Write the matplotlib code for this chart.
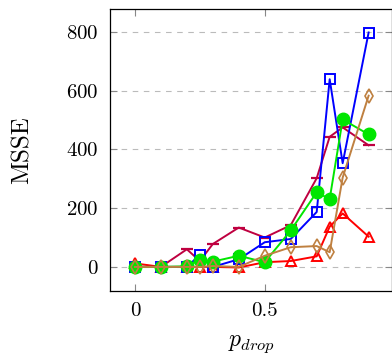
import matplotlib
matplotlib.use("Agg")
import matplotlib.pyplot as plt

plt.rcParams['font.family'] = ['cmr10', 'DejaVu Serif']
plt.rcParams['mathtext.fontset'] = 'cm'
plt.rcParams['axes.formatter.use_mathtext'] = True

# valores
p_drop = [0.0, 0.1, 0.2, 0.25, 0.3, 0.4, 0.5, 0.6, 0.7, 0.75, 0.8, 0.9]
msse_red = [12, 0, 0, 0, 0, -2, 16, 20, 36, 137, 182, 103]
msse_purple = [0, 0, 60, 20, 78, 134, 100, 142, 302, 443, 475, 414]
msse_blue = [0, 0, 0, 41, 0, 26, 84, 95, 187, 639, 353, 798]
msse_green = [0, 0, 2, 24, 18, 38, 16, 124, 254, 231, 502, 451]
msse_brown = [0, 0, 0, 0, 3, 0, 38, 67, 71, 50, 304, 583]

x_ticks = [0, 0.5]
y_ticks = [0, 200, 400, 600, 800]

fig = plt.figure(figsize=(3.92, 3.56), dpi=100)
ax = fig.add_axes([0.2806, 0.1826, 0.7194, 0.7921])

lw = 1.4
ax.plot(p_drop, msse_red, color='red', lw=lw, marker='^', ms=7,
        mfc='none', mew=1.4, zorder=3)
ax.plot(p_drop, msse_purple, color='#BF0040', lw=lw, marker='_', ms=9,
        mew=1.6, zorder=3)
ax.plot(p_drop, msse_blue, color='blue', lw=lw, marker='s', ms=7,
        mfc='none', mew=1.4, zorder=4)
ax.plot(p_drop, msse_green, color='#00E600', lw=lw, marker='o', ms=9,
        zorder=5)
ax.plot(p_drop, msse_brown, color='#BF8040', lw=lw, marker='d', ms=7,
        mfc='none', mew=1.2, zorder=6)

ax.set_xlim(-0.096, 0.99)
ax.set_ylim(-82, 878)
ax.set_xticks(x_ticks)
ax.set_xticklabels(['0', '0.5'])
ax.set_yticks(y_ticks)
ax.yaxis.grid(True, linestyle=(0, (5, 5)), color='#bbbbbb', lw=0.8)
ax.set_axisbelow(True)

ax.tick_params(direction='in', length=5, width=0.8, color='#888888',
               top=True, right=True, labelsize=15, pad=8)
for s in ax.spines.values():
    s.set_linewidth(0.9)

ax.set_ylabel('MSSE', fontsize=18, labelpad=24)
ax.set_xlabel(r'$p_{drop}$', fontsize=17, labelpad=9)

fig.savefig('out.png', dpi=100)
